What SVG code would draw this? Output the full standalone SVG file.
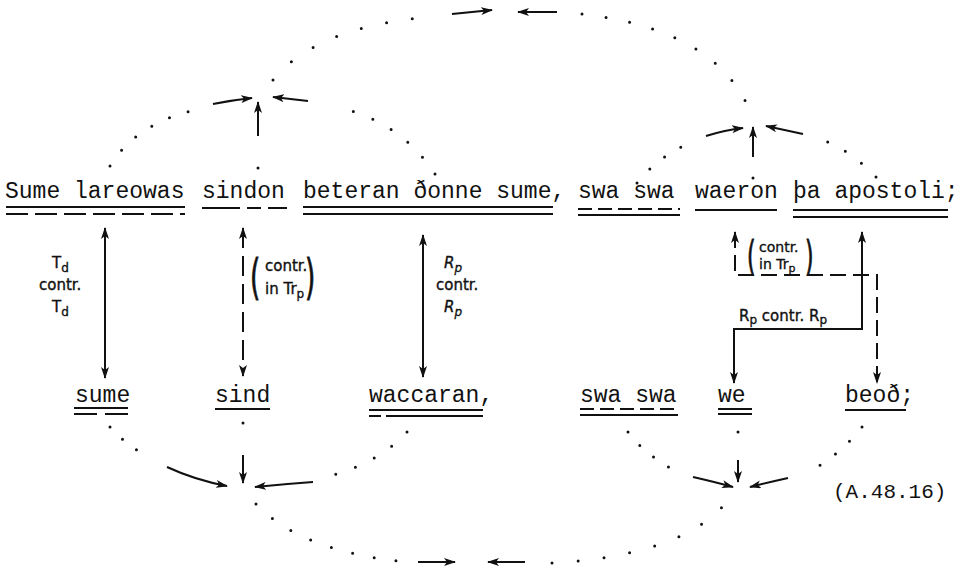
<svg xmlns="http://www.w3.org/2000/svg" width="966" height="572" viewBox="0 0 966 572">
<style>
.mono{font-family:"Liberation Mono","DejaVu Sans Mono",monospace;font-size:23px;fill:#111}
.lab{font-family:"DejaVu Sans",sans-serif;font-size:15px;fill:#111;stroke:#111;stroke-width:0.35}
.par{font-family:"DejaVu Sans",sans-serif;font-size:48px;fill:#111;stroke:#111;stroke-width:0.9}
.ul{stroke:#111;stroke-width:2;fill:none}
.uld{stroke:#111;stroke-width:2;fill:none;stroke-dasharray:22 7}
.dots{fill:none;stroke:#111;stroke-width:3;stroke-linecap:round}
.arr{stroke:#111;stroke-width:2;fill:none}
.dsh{stroke:#111;stroke-width:2;fill:none;stroke-dasharray:16 7}
</style>
<defs>
<marker id="ah" viewBox="0 0 12 8" refX="11" refY="4" markerWidth="12" markerHeight="8" orient="auto-start-reverse" markerUnits="userSpaceOnUse">
<path d="M0,0 L12,4 L0,8 L3,4 z" fill="#111"/>
</marker>
</defs>
<rect width="966" height="572" fill="#fff"/>

<!-- top phrases -->
<g id="t-sume-lareowas">
<text class="mono" x="5" y="198">Sume lareowas</text>
<line class="ul" x1="6" y1="207" x2="185" y2="207"/>
<line class="uld" x1="6" y1="214" x2="185" y2="214"/>
</g>
<g id="t-sindon">
<text class="mono" x="202" y="198">sindon</text>
<line class="uld" x1="202" y1="208" x2="287" y2="208" style="stroke-dasharray:38 7 14 7"/>
</g>
<g id="t-beteran">
<text class="mono" x="303" y="198">beteran ðonne sume,</text>
<line class="ul" x1="303" y1="207" x2="553" y2="207"/>
<line class="ul" x1="303" y1="214" x2="553" y2="214"/>
</g>
<g id="t-swa-swa">
<text class="mono" x="578" y="198">swa swa</text>
<line class="uld" x1="578" y1="209" x2="680" y2="209" style="stroke-dasharray:14 6"/>
<line class="ul" x1="578" y1="215" x2="680" y2="215"/>
</g>
<g id="t-waeron">
<text class="mono" x="695" y="198">waeron</text>
<line class="ul" x1="695" y1="210" x2="777" y2="210"/>
</g>
<g id="t-pa-apostoli">
<text class="mono" x="793" y="198">þa apostoli;</text>
<line class="ul" x1="793" y1="210" x2="948" y2="210"/>
<line class="ul" x1="793" y1="217" x2="948" y2="217"/>
</g>

<!-- bottom words -->
<g id="b-sume">
<text class="mono" x="75" y="402">sume</text>
<line class="ul" x1="74" y1="408" x2="128" y2="408"/>
<line class="uld" x1="74" y1="414" x2="128" y2="414" style="stroke-dasharray:23 8"/>
</g>
<g id="b-sind">
<text class="mono" x="215" y="402">sind</text>
<line class="ul" x1="215" y1="409" x2="270" y2="409"/>
</g>
<g id="b-waccaran">
<text class="mono" x="369" y="402">waccaran,</text>
<line class="ul" x1="369" y1="410" x2="483" y2="410"/>
<line class="ul" x1="369" y1="416" x2="483" y2="416" style="stroke-dasharray:12 5 200"/>
</g>
<g id="b-swa-swa">
<text class="mono" x="580" y="402">swa swa</text>
<line class="uld" x1="580" y1="409" x2="678" y2="409" style="stroke-dasharray:14 6"/>
<line class="ul" x1="580" y1="415" x2="678" y2="415"/>
</g>
<g id="b-we">
<text class="mono" x="718" y="402">we</text>
<line class="ul" x1="718" y1="409" x2="752" y2="409"/>
<line class="ul" x1="718" y1="414" x2="752" y2="414"/>
</g>
<g id="b-beod">
<text class="mono" x="845" y="402">beoð;</text>
<line class="ul" x1="845" y1="410" x2="906" y2="410"/>
</g>

<g id="ref">
<text class="mono" x="833" y="498" style="font-size:21px">(A.48.16)</text>
</g>

<!-- labels -->
<g id="lab-td">
<text class="lab" x="52" y="268">T<tspan dy="4" font-size="12">d</tspan></text>
<text class="lab" x="39" y="290">contr.</text>
<text class="lab" x="52" y="312">T<tspan dy="4" font-size="12">d</tspan></text>
</g>
<g id="lab-sind">
<text class="par" x="250" y="294" transform="translate(250 0) scale(0.55 1) translate(-250 0)">(</text>
<text class="lab" x="265" y="271">contr.</text>
<text class="lab" x="265" y="294">in Tr<tspan dy="4" font-size="12">p</tspan></text>
<text class="par" x="305" y="294" transform="translate(305 0) scale(0.55 1) translate(-305 0)">)</text>
</g>
<g id="lab-rp">
<text class="lab" x="444" y="268" font-style="italic">R<tspan dy="4" font-size="12">p</tspan></text>
<text class="lab" x="436" y="290">contr.</text>
<text class="lab" x="444" y="312" font-style="italic">R<tspan dy="4" font-size="12">p</tspan></text>
</g>
<g id="lab-trp2">
<text class="par" x="747" y="270" style="font-size:40px" transform="translate(747 0) scale(0.55 1) translate(-747 0)">(</text>
<text class="lab" x="759" y="252" style="font-size:14px">contr.</text>
<text class="lab" x="759" y="269" style="font-size:14px">in Tr<tspan dy="3" font-size="11">p</tspan></text>
<text class="par" x="805" y="270" style="font-size:40px" transform="translate(805 0) scale(0.55 1) translate(-805 0)">)</text>
</g>
<g id="lab-rp2">
<text class="lab" x="739" y="321">R<tspan dy="3" font-size="12">p</tspan><tspan dy="-3"> contr. R</tspan><tspan dy="3" font-size="12">p</tspan></text>
</g>

<g id="connectors">
<!-- vertical links -->
<line class="arr" x1="105" y1="228" x2="105" y2="378" marker-start="url(#ah)" marker-end="url(#ah)"/>
<line class="dsh" x1="243" y1="228" x2="243" y2="376" marker-start="url(#ah)" marker-end="url(#ah)" style="stroke-dasharray:20 8"/>
<line class="arr" x1="423" y1="235" x2="423" y2="377" marker-start="url(#ah)" marker-end="url(#ah)"/>
<path class="dsh" d="M735,232 L735,275 L877,275 L877,383" marker-start="url(#ah)" marker-end="url(#ah)"/>
<path class="arr" d="M862,232 L862,329 L734,329 L734,383" marker-start="url(#ah)" marker-end="url(#ah)"/>

<!-- upper node A -->
<path class="dots" d="M110,166 Q135,125 191,111" style="stroke-dasharray:0 19.5"/>
<path class="arr" d="M213,104 Q233,100 252,98" marker-end="url(#ah)"/>
<path class="dots" d="M258,168 L258,149" style="stroke-dasharray:0 19"/>
<line class="arr" x1="258" y1="136" x2="258" y2="102" marker-end="url(#ah)"/>
<path class="dots" d="M435,174 Q400,120 333,106" style="stroke-dasharray:0 21"/>
<line class="arr" x1="308" y1="101" x2="273" y2="97" marker-end="url(#ah)"/>
<path class="dots" d="M273,80 Q315,28 427,17" style="stroke-dasharray:0 26"/>
<line class="arr" x1="452" y1="14" x2="492" y2="10" marker-end="url(#ah)"/>
<line class="arr" x1="557" y1="12" x2="518" y2="12" marker-end="url(#ah)"/>
<path class="dots" d="M582,14 Q720,30 752,116" style="stroke-dasharray:0 24"/>

<!-- upper node B -->
<path class="arr" d="M706,136 Q725,130 743,128" marker-end="url(#ah)"/>
<line class="arr" x1="803" y1="134" x2="766" y2="126" marker-end="url(#ah)"/>
<line class="arr" x1="753" y1="157" x2="753" y2="127" marker-end="url(#ah)"/>
<path class="dots" d="M753,178 L753,164" style="stroke-dasharray:0 14"/>
<path class="dots" d="M637,183 Q655,160 685,145" style="stroke-dasharray:0 19"/>
<path class="dots" d="M876,177 Q850,150 823,140" style="stroke-dasharray:0 20"/>

<!-- lower node C -->
<path class="dots" d="M110,427 Q128,447 151,458" style="stroke-dasharray:0 17.5"/>
<path class="arr" d="M167,467 Q195,480 227,486" marker-end="url(#ah)"/>
<path class="dots" d="M243,423 L243,441" style="stroke-dasharray:0 18"/>
<line class="arr" x1="243" y1="455" x2="243" y2="483" marker-end="url(#ah)"/>
<path class="dots" d="M407,432 Q380,462 330,476" style="stroke-dasharray:0 21"/>
<path class="arr" d="M313,482 Q285,484 255,487" marker-end="url(#ah)"/>
<path class="dots" d="M256,504 Q300,550 398,561" style="stroke-dasharray:0 22"/>
<line class="arr" x1="418" y1="562" x2="455" y2="562" marker-end="url(#ah)"/>
<line class="arr" x1="525" y1="562" x2="488" y2="562" marker-end="url(#ah)"/>
<path class="dots" d="M552,563 Q690,555 731,496" style="stroke-dasharray:0 26"/>

<!-- lower node D -->
<path class="arr" d="M693,477 Q715,482 733,487" marker-end="url(#ah)"/>
<path class="dots" d="M738,432 L738,448" style="stroke-dasharray:0 16"/>
<line class="arr" x1="738" y1="460" x2="738" y2="482" marker-end="url(#ah)"/>
<path class="arr" d="M788,478 Q770,482 750,487" marker-end="url(#ah)"/>
<path class="dots" d="M628,432 Q645,455 679,473" style="stroke-dasharray:0 18"/>
<path class="dots" d="M862,427 Q840,455 810,471" style="stroke-dasharray:0 19"/>
</g>
</svg>
